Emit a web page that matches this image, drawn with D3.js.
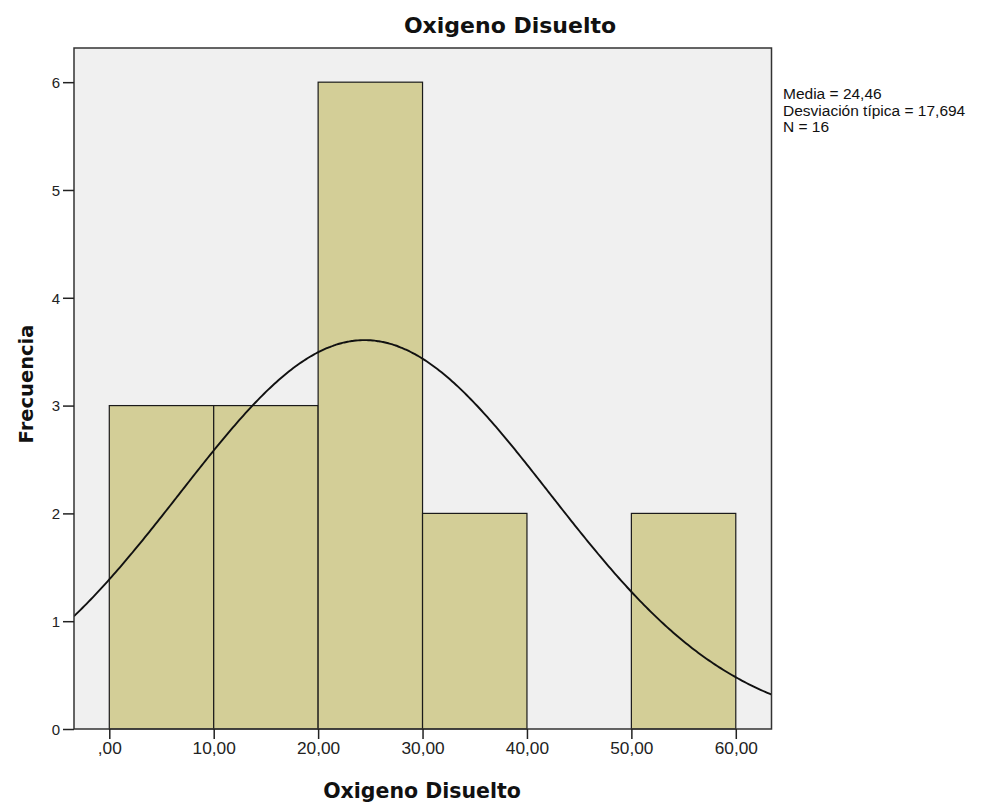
<!DOCTYPE html>
<html><head><meta charset="utf-8">
<script src="https://cdn.jsdelivr.net/npm/d3@7"></script>
<style>body{margin:0;background:#fff;}</style>
</head><body>
<svg id="c" width="998" height="808"></svg>
<script>
const binStarts = [0, 10, 20, 30, 40, 50];
const binEnds = [10, 20, 30, 40, 50, 60];
const counts = [3, 3, 6, 2, 0, 2];
const xTicks = [0, 10, 20, 30, 40, 50, 60];
const yTicks = [0, 1, 2, 3, 4, 5, 6];
const mean = 24.46, sd = 17.694, n = 16, binWidth = 10;
const statLines = ["Media = 24,46", "Desviación típica = 17,694", "N = 16"];

const SANS = "'Liberation Sans',Arial,sans-serif";
const BOLD = "'DejaVu Sans',Verdana,sans-serif";
const svg = d3.select("#c");
const L = 74, R = 771.5, T = 48, B = 729;
const x = d3.scaleLinear().domain([-3.38, 63.42]).range([L, R]);
const y = d3.scaleLinear().domain([0, 6.317]).range([B, T]);

svg.append("rect").attr("x", L).attr("y", T).attr("width", R - L).attr("height", B - T).attr("fill", "#f0f0f0");

const bins = counts.map((c, i) => ({a: binStarts[i], b: binEnds[i], c}));
svg.selectAll("rect.bar").data(bins.filter(d => d.c > 0)).enter().append("rect")
  .attr("class", "bar")
  .attr("x", d => x(d.a)).attr("y", d => y(d.c))
  .attr("width", d => x(d.b) - x(d.a)).attr("height", d => y(0) - y(d.c))
  .attr("fill", "#d3ce97").attr("stroke", "#1a1a1a").attr("stroke-width", 1.2);

// normal curve from the stated mean / sd
const pts = d3.range(-3.38, 63.43, 0.2).map(v => [v, n * binWidth * Math.exp(-0.5 * ((v - mean) / sd) ** 2) / (sd * Math.sqrt(2 * Math.PI))]);
svg.append("defs").append("clipPath").attr("id", "cp").append("rect").attr("x", L).attr("y", T).attr("width", R - L).attr("height", B - T);
svg.append("path").datum(pts).attr("clip-path", "url(#cp)")
  .attr("d", d3.line().x(d => x(d[0])).y(d => y(d[1])).curve(d3.curveBasis))
  .attr("fill", "none").attr("stroke", "#111").attr("stroke-width", 1.9);

svg.append("rect").attr("x", L).attr("y", T).attr("width", R - L).attr("height", B - T)
  .attr("fill", "none").attr("stroke", "#333").attr("stroke-width", 1.5);

const fmt = v => v === 0 ? ",00" : v.toFixed(2).replace(".", ",");
const xa = svg.append("g").attr("transform", `translate(0,${B})`)
  .call(d3.axisBottom(x).tickValues(xTicks).tickFormat(fmt).tickSize(10).tickPadding(4));
const ya = svg.append("g").attr("transform", `translate(${L},0)`)
  .call(d3.axisLeft(y).tickValues(yTicks).tickFormat(d3.format("d")).tickSize(11).tickPadding(3));
[xa, ya].forEach(g => {
  g.attr("font-size", null).attr("font-family", null);
  g.select(".domain").remove();
  g.selectAll("line").attr("stroke", "#222").attr("stroke-width", 1.5);
  g.selectAll("text").attr("fill", "#222").style("font-family", SANS);
});
xa.selectAll("text").style("font-size", "16px").attr("transform", "scale(1.08,1)");
ya.selectAll("text").style("font-size", "15px").attr("dy", "0.35em");

svg.append("text").attr("x", 510).attr("y", 33).attr("text-anchor", "middle")
  .style("font-family", BOLD).style("font-size", "22px").attr("font-weight", "bold").attr("fill", "#111").text("Oxigeno Disuelto");
svg.append("text").attr("x", 422).attr("y", 798).attr("text-anchor", "middle")
  .style("font-family", BOLD).style("font-size", "20.5px").attr("font-weight", "bold").attr("fill", "#111").text("Oxigeno Disuelto");
svg.append("text").attr("transform", "translate(33,384) rotate(-90)").attr("text-anchor", "middle")
  .style("font-family", BOLD).style("font-size", "19.5px").attr("font-weight", "bold").attr("fill", "#111").text("Frecuencia");

svg.append("g").attr("transform", "translate(783,0)")
  .selectAll("text").data(statLines).enter().append("text")
  .attr("x", 0).attr("y", (d, i) => 99 + i * 16.5)
  .style("font-family", SANS).style("font-size", "15.5px").attr("fill", "#111").text(d => d);
</script>
</body></html>
